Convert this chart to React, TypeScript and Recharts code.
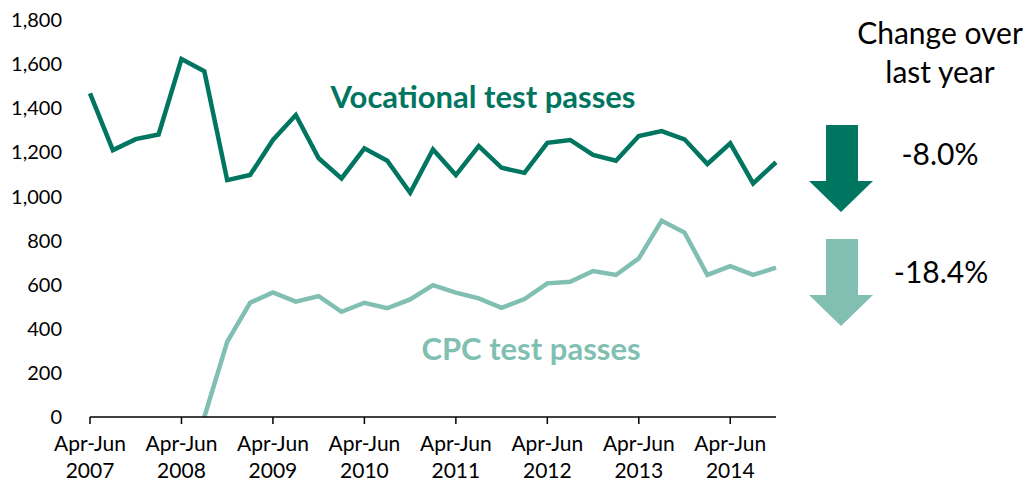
import React from "react";
import { LineChart, Line, XAxis, YAxis } from "recharts";

const categories = [
  "Apr-Jun 2007", "Jul-Sep 2007", "Oct-Dec 2007", "Jan-Mar 2008",
  "Apr-Jun 2008", "Jul-Sep 2008", "Oct-Dec 2008", "Jan-Mar 2009",
  "Apr-Jun 2009", "Jul-Sep 2009", "Oct-Dec 2009", "Jan-Mar 2010",
  "Apr-Jun 2010", "Jul-Sep 2010", "Oct-Dec 2010", "Jan-Mar 2011",
  "Apr-Jun 2011", "Jul-Sep 2011", "Oct-Dec 2011", "Jan-Mar 2012",
  "Apr-Jun 2012", "Jul-Sep 2012", "Oct-Dec 2012", "Jan-Mar 2013",
  "Apr-Jun 2013", "Jul-Sep 2013", "Oct-Dec 2013", "Jan-Mar 2014",
  "Apr-Jun 2014", "Jul-Sep 2014", "Oct-Dec 2014",
];

const vocational = [
  1467, 1210, 1260, 1281, 1623, 1568, 1074, 1097, 1256, 1369, 1173, 1082,
  1218, 1162, 1017, 1213, 1097, 1228, 1130, 1107, 1243, 1256, 1188, 1162,
  1274, 1296, 1259, 1147, 1241, 1059, 1155,
];

const cpc: (number | null)[] = [
  null, null, null, null, null, 0, 341, 518, 565, 523, 548, 477, 518, 493,
  533, 598, 564, 538, 495, 535, 606, 613, 662, 644, 719, 890, 836, 644, 684,
  644, 677,
];

const yTicks = [0, 200, 400, 600, 800, 1000, 1200, 1400, 1600, 1800];

const changeVocational = "-8.0%";
const changeCpc = "-18.4%";

const DARK = "#007560";
const LIGHT = "#80BFB2";
const FONT = "Lato, 'Open Sans', sans-serif";

const data = categories.map((c, i) => ({
  cat: c,
  vocational: vocational[i],
  cpc: cpc[i],
}));

const XTick = (props: any) => {
  const { x, y, payload } = props;
  const [q, yr] = String(payload.value).split(" ");
  return (
    <g transform={`translate(${x},${y})`}>
      <text textAnchor="middle" fontFamily={FONT} fontSize={21} fill="#000">
        <tspan x={0} dy={25}>{q}</tspan>
        <tspan x={0} dy={27}>{yr}</tspan>
      </text>
    </g>
  );
};

const Arrow = ({ x, top, color }: { x: number; top: number; color: string }) => {
  const headW = 64;
  const shaftL = x + 17;
  const shaftR = x + 49;
  const headTop = top + 56;
  const tip = top + 87;
  const pts = [
    [shaftL, top],
    [shaftR, top],
    [shaftR, headTop],
    [x + headW, headTop],
    [x + headW / 2, tip],
    [x, headTop],
    [shaftL, headTop],
  ]
    .map((p) => p.join(","))
    .join(" ");
  return <polygon points={pts} fill={color} />;
};

export default function App() {
  return (
    <div
      style={{
        position: "absolute",
        left: 0,
        top: 0,
        width: 1026,
        height: 485,
        background: "#fff",
      }}
    >
      <LineChart
        width={1026}
        height={485}
        data={data}
        margin={{ top: 20, right: 250, bottom: 0, left: 0 }}
      >
        <XAxis
          dataKey="cat"
          interval={3}
          tick={<XTick />}
          tickSize={7}
          tickMargin={2}
          axisLine={{ stroke: "#000", strokeWidth: 1.5 }}
          tickLine={{ stroke: "#000", strokeWidth: 1.5 }}
          height={68}
        />
        <YAxis
          width={90}
          domain={[0, 1800]}
          ticks={yTicks}
          axisLine={false}
          tickLine={false}
          tickSize={0}
          tickMargin={28}
          tickFormatter={(v: number) => v.toLocaleString("en-US")}
          tick={{ fontFamily: FONT, fontSize: 20, fill: "#000" }}
        />
        <Line
          type="linear"
          dataKey="vocational"
          stroke={DARK}
          strokeWidth={4.5}
          dot={false}
          isAnimationActive={false}
        />
        <Line
          type="linear"
          dataKey="cpc"
          stroke={LIGHT}
          strokeWidth={4.5}
          dot={false}
          isAnimationActive={false}
        />
      </LineChart>
      <svg
        width={1026}
        height={485}
        style={{ position: "absolute", left: 0, top: 0, pointerEvents: "none" }}
      >
        <text
          x={483}
          y={108}
          textAnchor="middle"
          fontFamily={FONT}
          fontWeight="bold"
          fontSize={31}
          fill={DARK}
        >
          Vocational test passes
        </text>
        <text
          x={531}
          y={360}
          textAnchor="middle"
          fontFamily={FONT}
          fontWeight="bold"
          fontSize={31}
          fill={LIGHT}
        >
          CPC test passes
        </text>
        <text x={940} y={44} textAnchor="middle" fontFamily={FONT} fontSize={30} fill="#000">
          Change over
        </text>
        <text x={940} y={83} textAnchor="middle" fontFamily={FONT} fontSize={30} fill="#000">
          last year
        </text>
        <Arrow x={809} top={125} color={DARK} />
        <Arrow x={809} top={239} color={LIGHT} />
        <text x={940} y={165} textAnchor="middle" fontFamily={FONT} fontSize={30} fill="#000">
          {changeVocational}
        </text>
        <text x={941} y={283} textAnchor="middle" fontFamily={FONT} fontSize={30} fill="#000">
          {changeCpc}
        </text>
      </svg>
    </div>
  );
}
